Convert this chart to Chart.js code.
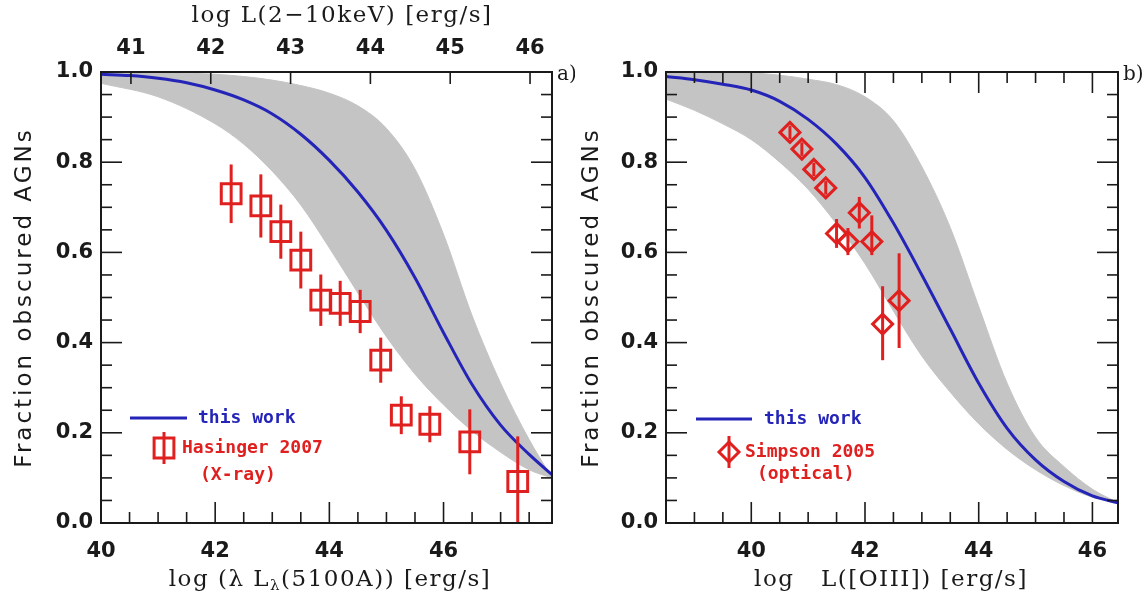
<!DOCTYPE html>
<html>
<head>
<meta charset="utf-8">
<script src="https://cdn.jsdelivr.net/npm/chart.js@4.4.1/dist/chart.umd.min.js"></script>
<style>
  html, body { margin: 0; padding: 0; background: #fff; }
  #wrap { position: relative; width: 1147px; height: 598px; }
  canvas { position: absolute; top: 0; }
</style>
</head>
<body>
<div id="wrap">
  <canvas id="panelA" width="575" height="598" style="left:0"></canvas>
  <canvas id="panelB" width="572" height="598" style="left:575px"></canvas>
</div>
<script>
// ---- panel a) : optical continuum luminosity ----
const bandXA  = [40, 41, 42, 42.5, 43, 43.5, 44, 44.5, 45, 45.5, 46, 46.5, 47, 47.5, 47.9];
const bandHiA = [1.0, 0.999, 0.995, 0.99, 0.982, 0.97, 0.953, 0.925, 0.875, 0.785, 0.64, 0.46, 0.31, 0.185, 0.10];
const bandLoA = [0.975, 0.945, 0.885, 0.84, 0.78, 0.705, 0.61, 0.51, 0.413, 0.33, 0.262, 0.204, 0.157, 0.118, 0.10];

const curveXA = [40, 40.5, 41, 41.5, 42, 42.5, 43, 43.5, 44, 44.5, 45, 45.5, 46, 46.5, 47, 47.5, 47.9];
const curveYA = [0.995, 0.992, 0.986, 0.976, 0.96, 0.938, 0.907, 0.862, 0.804, 0.734, 0.649, 0.544, 0.422, 0.307, 0.217, 0.152, 0.107];

const hasX   = [42.28, 42.8, 43.15, 43.5, 43.85, 44.19, 44.54, 44.9, 45.26, 45.76, 46.46, 47.3];
const hasY   = [0.73, 0.703, 0.646, 0.583, 0.494, 0.487, 0.469, 0.361, 0.239, 0.219, 0.18, 0.092];
const hasErr = [0.065, 0.07, 0.06, 0.063, 0.057, 0.05, 0.048, 0.05, 0.042, 0.04, 0.072, 0.10];

const xTicksA   = [40, 42, 44, 46];
const topTicksA = [41, 42, 43, 44, 45, 46];

// ---- panel b) : [OIII] luminosity ----
const bandXB  = [38.5, 39, 39.5, 40, 40.5, 41, 41.5, 42, 42.5, 43, 43.5, 44, 44.5, 45, 45.5, 46, 46.45];
const bandHiB = [1.0, 1.0, 1.0, 0.998, 0.993, 0.984, 0.972, 0.945, 0.892, 0.79, 0.655, 0.48, 0.31, 0.19, 0.125, 0.075, 0.045];
const bandLoB = [0.94, 0.915, 0.885, 0.85, 0.80, 0.74, 0.663, 0.575, 0.47, 0.37, 0.29, 0.22, 0.163, 0.118, 0.083, 0.057, 0.045];
const curveYB = [0.99, 0.983, 0.973, 0.96, 0.935, 0.895, 0.84, 0.766, 0.665, 0.55, 0.43, 0.31, 0.21, 0.14, 0.092, 0.06, 0.045];

const simX     = [40.68, 40.89, 41.10, 41.31, 41.50, 41.70, 41.90, 42.12, 42.31, 42.60];
const simY     = [0.866, 0.829, 0.784, 0.743, 0.642, 0.624, 0.688, 0.624, 0.441, 0.493];
const simErrHi = [0.015, 0.015, 0.015, 0.015, 0.032, 0.03, 0.035, 0.058, 0.084, 0.105];
const simErrLo = [0.015, 0.015, 0.015, 0.015, 0.032, 0.03, 0.035, 0.03, 0.08, 0.105];

const xTicksB = [40, 42, 44, 46];
const yTicks  = [0, 0.2, 0.4, 0.6, 0.8, 1.0];

const RED = '#e01f1f', BLUE = '#2424b8', GRAY = '#c4c4c4', INK = '#1a1a1a';
const TICK_FONT = { family: 'DejaVu Sans', size: 21, weight: 'bold' };

const zip = (xs, ys) => xs.map((x, i) => ({ x, y: ys[i] }));

// frame, inward ticks, error bars, titles, legend
const decor = {
  id: 'decor',
  beforeDatasetDraw(chart, args, o) {
    if (args.index !== 3) return;
    const { ctx, chartArea: a, scales: { x, y } } = chart;
    ctx.save();
    ctx.beginPath(); ctx.rect(a.left, a.top, a.width, a.height); ctx.clip();
    ctx.strokeStyle = RED; ctx.lineWidth = 3;
    o.errX.forEach((v, i) => {
      const px = x.getPixelForValue(v);
      ctx.beginPath();
      ctx.moveTo(px, y.getPixelForValue(o.errY[i] + o.errHi[i]));
      ctx.lineTo(px, y.getPixelForValue(o.errY[i] - o.errLo[i]));
      ctx.stroke();
    });
    ctx.restore();
  },
  afterDraw(chart, args, o) {
    const { ctx, chartArea: a, scales: { x, y } } = chart;
    ctx.save();
    ctx.strokeStyle = INK; ctx.lineWidth = 2;
    ctx.strokeRect(a.left, a.top, a.width, a.height);
    ctx.lineWidth = 1.6;
    const line = (x0, y0, x1, y1) => { ctx.beginPath(); ctx.moveTo(x0, y0); ctx.lineTo(x1, y1); ctx.stroke(); };
    // y ticks on both sides
    for (let k = 0; k <= 20; k++) {
      const v = k * 0.05, py = y.getPixelForValue(v);
      const len = k % 4 === 0 ? 21 : 11;
      line(a.left, py, a.left + len, py);
      line(a.right, py, a.right - len, py);
    }
    // bottom ticks (and top for panel b)
    for (let v = Math.ceil(x.min * 2) / 2; v <= x.max + 1e-6; v += 0.5) {
      const px = x.getPixelForValue(v);
      const len = Math.abs(v / 2 - Math.round(v / 2)) < 1e-6 ? 21 : 11;
      line(px, a.bottom, px, a.bottom - len);
      if (!o.top) line(px, a.top, px, a.top + len);
    }
    if (o.top) {
      const t = chart.scales.xTop;
      o.top.forEach(v => { const px = t.getPixelForValue(v); line(px, a.top, px, a.top + 12); });
    }
    // titles
    ctx.fillStyle = INK;
    ctx.textBaseline = 'middle';
    ctx.save();
    ctx.translate(o.yTitleX, (a.top + a.bottom) / 2);
    ctx.rotate(-Math.PI / 2);
    ctx.font = "23px 'DejaVu Sans'";
    ctx.letterSpacing = '3px';
    ctx.textAlign = 'center';
    ctx.fillText('Fraction obscured AGNs', 0, 0);
    ctx.restore();

    const pieces = (parts, cx, cy) => {
      ctx.letterSpacing = '1.5px';
      let w = 0;
      parts.forEach(p => { ctx.font = p.font; w += ctx.measureText(p.t).width; });
      let px = cx - w / 2;
      ctx.textAlign = 'left';
      parts.forEach(p => {
        ctx.font = p.font;
        ctx.fillText(p.t, px, cy + (p.dy || 0));
        px += ctx.measureText(p.t).width;
      });
      ctx.letterSpacing = '0px';
    };
    o.xTitle(pieces, a);
    ctx.font = "20px 'DejaVu Serif'";
    ctx.textAlign = 'left';
    ctx.fillText(o.tag, a.right + 5, a.top + 3);

    // legend
    const L = o.legend;
    ctx.strokeStyle = BLUE; ctx.lineWidth = 3;
    line(L.lineX0, L.lineY, L.lineX1, L.lineY);
    ctx.font = "bold 18px 'DejaVu Sans Mono'";
    ctx.fillStyle = BLUE;
    ctx.fillText('this work', L.textX, L.lineY);
    ctx.strokeStyle = RED;
    line(L.mx, L.my - 16, L.mx, L.my + 16);
    ctx.fillStyle = 'rgba(0,0,0,0)';
    Chart.helpers.drawPoint(ctx, { pointStyle: o.marker, radius: o.radius, borderWidth: 3 }, L.mx, L.my);
    ctx.fillStyle = RED;
    ctx.fillText(L.name, L.nameX, L.my);
    ctx.fillText(L.sub, L.subX, L.subY);
    ctx.restore();
  }
};

function axisX(min, max, ticks, pos, fitH, pad) {
  return {
    type: 'linear', position: pos, min, max,
    afterFit: s => { s.height = fitH; },
    afterBuildTicks: s => { s.ticks = ticks.map(v => ({ value: v })); },
    grid: { display: false, drawTicks: false }, border: { display: false },
    ticks: { font: TICK_FONT, color: INK, padding: pad, maxRotation: 0, autoSkip: false, callback: v => String(v) }
  };
}
function axisY(fitW) {
  return {
    min: 0, max: 1,
    afterFit: s => { s.width = fitW; },
    afterBuildTicks: s => { s.ticks = yTicks.map(v => ({ value: v })); },
    grid: { display: false, drawTicks: false }, border: { display: false },
    ticks: { font: TICK_FONT, color: INK, padding: 8, callback: v => v.toFixed(1) }
  };
}
function datasets(bx, hi, lo, cx, cy, px, py, marker, radius) {
  const lineBase = { type: 'line', pointRadius: 0, cubicInterpolationMode: 'monotone', xAxisID: 'x', yAxisID: 'y' };
  return [
    { ...lineBase, order: 3, data: zip(bx, hi), fill: '+1', backgroundColor: GRAY, borderColor: GRAY, borderWidth: 1 },
    { ...lineBase, order: 2, data: zip(bx, lo), fill: false, borderColor: GRAY, borderWidth: 1 },
    { ...lineBase, order: 1, data: zip(cx, cy), fill: false, borderColor: BLUE, borderWidth: 3 },
    { type: 'scatter', order: 0, data: zip(px, py), pointStyle: marker, pointRadius: radius, pointHoverRadius: radius,
      borderColor: RED, borderWidth: 3, backgroundColor: 'rgba(0,0,0,0)', xAxisID: 'x', yAxisID: 'y' }
  ];
}

const common = {
  responsive: false, animation: false, events: [],
  plugins: { legend: { display: false }, tooltip: { enabled: false } }
};

new Chart(document.getElementById('panelA'), {
  type: 'scatter',
  data: { datasets: datasets(bandXA, bandHiA, bandLoA, curveXA, curveYA, hasX, hasY, 'rect', 14) },
  options: {
    ...common,
    layout: { padding: { left: 0, right: 23, top: 0, bottom: 0 } },
    scales: {
      x: axisX(40, 47.9, xTicksA, 'bottom', 75, 16),
      xTop: axisX(40.625, 46.275, topTicksA, 'top', 72, 11),
      y: axisY(101)
    },
    plugins: {
      ...common.plugins,
      decor: {
        errX: hasX, errY: hasY, errHi: hasErr, errLo: hasErr,
        top: topTicksA, yTitleX: 25, tag: 'a)', marker: 'rect', radius: 14,
        xTitle: (pieces, a) => {
          const f = "23px 'DejaVu Serif'", fs = "15px 'DejaVu Serif'";
          pieces([{ t: 'log (λ L', font: f }, { t: 'λ', font: fs, dy: 6 }, { t: '(5100A)) [erg/s]', font: f }], 330, 580);
          pieces([{ t: 'log L(2\u221210keV) [erg/s]', font: f }], 342, 16);
        },
        legend: { lineX0: 130, lineX1: 187, lineY: 418, textX: 198, mx: 164, my: 448,
                  name: 'Hasinger 2007', nameX: 182, sub: '(X-ray)', subX: 200, subY: 475 }
      }
    }
  },
  plugins: [decor]
});

const OFF = 575;
new Chart(document.getElementById('panelB'), {
  type: 'scatter',
  data: { datasets: datasets(bandXB, bandHiB, bandLoB, bandXB, curveYB, simX, simY, 'rectRot', 10) },
  options: {
    ...common,
    layout: { padding: { left: 0, right: 29, top: 72, bottom: 0 } },
    scales: {
      x: axisX(38.5, 46.45, xTicksB, 'bottom', 75, 16),
      y: axisY(666 - OFF)
    },
    plugins: {
      ...common.plugins,
      decor: {
        errX: simX, errY: simY, errHi: simErrHi, errLo: simErrLo,
        top: null, yTitleX: 592 - OFF, tag: 'b)', marker: 'rectRot', radius: 10,
        xTitle: (pieces, a) => {
          const f = "23px 'DejaVu Serif'";
          pieces([{ t: 'log   L([OIII]) [erg/s]', font: f }], 891 - OFF, 580);
        },
        legend: { lineX0: 696 - OFF, lineX1: 752 - OFF, lineY: 419, textX: 764 - OFF, mx: 729 - OFF, my: 452,
                  name: 'Simpson 2005', nameX: 745 - OFF, sub: '(optical)', subX: 757 - OFF, subY: 474 }
      }
    }
  },
  plugins: [decor]
});
</script>
</body>
</html>
